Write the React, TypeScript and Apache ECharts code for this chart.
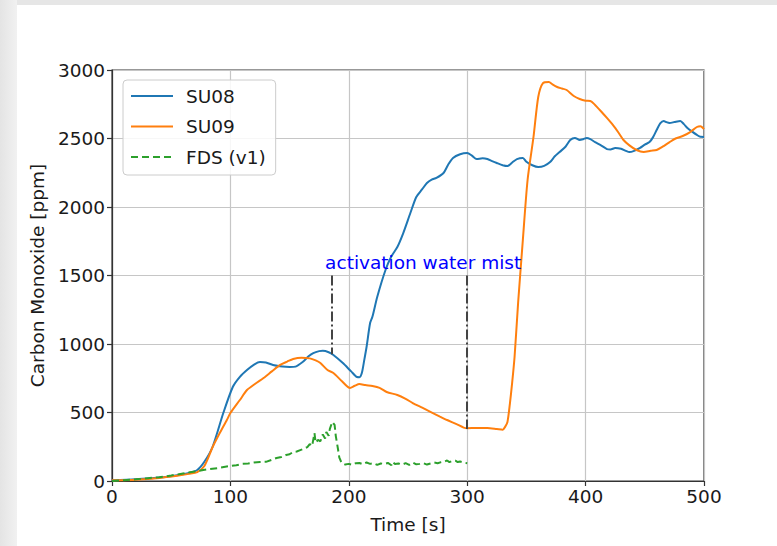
import React, { useEffect, useRef } from "react";
import * as echarts from "echarts";

// Measured CO concentration, sensor SU08
const su08Time = [0, 20, 40, 55, 65, 72, 78, 85, 94, 102, 108, 114, 120, 125, 130, 136, 144, 150, 155, 161, 166, 170, 175, 178, 183, 187, 195, 202, 207, 209, 211, 213, 215, 218, 220, 224, 231, 236, 241, 246, 252, 257, 262, 266, 270, 274, 280, 284, 288, 294, 300, 304, 308, 313, 317, 321, 325, 330, 334, 338, 342, 347, 350, 355, 360, 365, 370, 374, 378, 383, 387, 391, 395, 398, 401, 404, 408, 413, 418, 421, 425, 430, 434, 437, 441, 446, 450, 454, 457, 460, 463, 466, 468, 471, 475, 480, 483, 486, 490, 494, 497, 500];
const su08Co = [5, 12, 25, 42, 58, 80, 140, 250, 496, 686, 760, 810, 850, 869, 865, 847, 835, 832, 835, 869, 910, 934, 948, 950, 940, 920, 861, 800, 759, 758, 788, 880, 978, 1153, 1200, 1343, 1540, 1640, 1708, 1810, 1956, 2073, 2130, 2175, 2200, 2212, 2248, 2310, 2358, 2385, 2394, 2375, 2350, 2355, 2350, 2335, 2321, 2305, 2299, 2325, 2350, 2358, 2330, 2305, 2292, 2300, 2328, 2370, 2401, 2440, 2489, 2504, 2489, 2495, 2504, 2495, 2474, 2450, 2423, 2420, 2431, 2425, 2410, 2401, 2410, 2431, 2455, 2474, 2510, 2562, 2610, 2628, 2620, 2613, 2620, 2628, 2605, 2577, 2550, 2526, 2512, 2511];

// Measured CO concentration, sensor SU09
const su09Time = [0, 20, 40, 55, 65, 72, 78, 85, 91, 97, 100, 108, 114, 121, 128, 135, 142, 148, 153, 160, 167, 172, 176, 182, 187, 194, 201, 205, 209, 214, 220, 226, 232, 241, 248, 254, 262, 271, 277, 283, 291, 297, 300, 308, 317, 325, 330, 332, 334, 336, 338, 340, 343, 347, 351, 356, 360, 364, 369, 372, 376, 380, 384, 390, 395, 400, 404, 408, 412, 418, 423, 428, 432, 437, 443, 449, 455, 460, 465, 471, 476, 482, 488, 494, 497, 500];
const su09Co = [5, 10, 22, 38, 52, 65, 110, 248, 350, 445, 496, 591, 664, 710, 752, 800, 847, 872, 891, 900, 895, 880, 861, 810, 788, 730, 679, 695, 708, 700, 693, 680, 650, 628, 600, 569, 535, 496, 470, 445, 415, 390, 385, 387, 387, 380, 375, 395, 431, 560, 720, 905, 1300, 1759, 2197, 2511, 2803, 2905, 2912, 2895, 2876, 2865, 2854, 2810, 2788, 2776, 2774, 2745, 2708, 2650, 2599, 2540, 2489, 2450, 2416, 2401, 2410, 2416, 2440, 2474, 2500, 2518, 2545, 2584, 2590, 2569];

// FDS simulation (v1)
const fdsTime = [0, 10, 20, 30, 40, 50, 60, 70, 80, 90, 100, 105, 110, 115, 120, 125, 130, 135, 139, 143, 147, 150, 153, 156, 159, 162, 165, 167, 169, 171, 172, 174, 176, 178, 180, 181, 183, 184, 186, 187, 188, 189, 191, 192, 194, 197, 200, 203, 206, 209, 212, 215, 218, 221, 224, 227, 230, 233, 236, 237, 239, 242, 245, 248, 251, 254, 257, 260, 263, 266, 269, 272, 275, 278, 281, 283, 285, 287, 290, 292, 294, 297, 300];
const fdsCo = [0, 5, 12, 20, 28, 40, 55, 70, 85, 95, 110, 115, 125, 128, 135, 139, 140, 155, 168, 175, 190, 195, 212, 215, 225, 235, 248, 270, 255, 350, 280, 300, 290, 340, 310, 358, 330, 380, 431, 420, 409, 330, 226, 170, 131, 120, 125, 118, 130, 131, 122, 135, 125, 130, 118, 128, 125, 132, 115, 140, 124, 128, 120, 130, 118, 135, 122, 125, 130, 120, 128, 135, 130, 138, 142, 150, 138, 145, 148, 138, 142, 135, 130];

// Water mist activation markers: time, top and bottom of the marker line
const activationTime = [186, 300];
const activationTop = [1500, 1500];
const activationBottom = [925, 380];
const annotationText = "activation water mist";
const annotationAt = [180, 1525];

const xTicks = { min: 0, max: 500, interval: 100 };
const yTicks = { min: 0, max: 3000, interval: 500 };

const FONT = "DejaVu Sans";
const FS = 18.5;
const TXT = "#1a1a1a";

const pairs = (t: number[], v: number[]) => t.map((x, i) => [x, v[i]]);

export default function App() {
  const ref = useRef<HTMLDivElement>(null);

  useEffect(() => {
    if (!ref.current) return;
    const chart = echarts.init(ref.current, null, { renderer: "svg" });

    const markLines = activationTime.map((t, i) => [
      { coord: [t, activationTop[i]] },
      { coord: [t, activationBottom[i]] },
    ]);

    chart.setOption({
      animation: false,
      textStyle: { fontFamily: FONT },
      grid: {
        left: 112,
        top: 70,
        width: 592,
        height: 411,
        show: true,
        borderColor: "#333333",
        borderWidth: 1.2,
        backgroundColor: "transparent",
      },
      legend: {
        data: ["SU08", "SU09", "FDS (v1)"],
        orient: "vertical",
        left: 123,
        top: 80,
        padding: [6, 10, 8, 7],
        itemWidth: 42,
        itemHeight: 20,
        itemGap: 10.5,
        backgroundColor: "rgba(255,255,255,0.85)",
        borderColor: "#cccccc",
        borderWidth: 1,
        borderRadius: 4,
        // line-only legend keys: hide the marker drawn on top of each line
        itemStyle: { color: "rgba(0,0,0,0)", borderWidth: 0 },
        textStyle: {
          fontFamily: FONT,
          fontSize: FS,
          color: TXT,
          lineHeight: 20,
          padding: [0, 0, 0, 8],
        },
      },
      xAxis: {
        type: "value",
        ...xTicks,
        name: "Time [s]",
        nameLocation: "middle",
        nameGap: 34,
        nameTextStyle: { fontFamily: FONT, fontSize: FS, color: TXT },
        axisLine: { show: true, lineStyle: { color: "#333333", width: 1.2 } },
        axisTick: { show: true, inside: false, length: 5, lineStyle: { color: "#333333", width: 1.2 } },
        axisLabel: { fontFamily: FONT, fontSize: FS, color: TXT, margin: 6, formatter: (v: number) => String(v) },
        splitLine: { show: true, lineStyle: { color: "#c6c6c6", width: 1.2 } },
      },
      yAxis: {
        type: "value",
        ...yTicks,
        name: "Carbon Monoxide [ppm]",
        nameLocation: "middle",
        nameGap: 64,
        nameTextStyle: { fontFamily: FONT, fontSize: FS, color: TXT },
        axisLine: { show: true, lineStyle: { color: "#333333", width: 1.2 } },
        axisTick: { show: true, inside: false, length: 5, lineStyle: { color: "#333333", width: 1.2 } },
        axisLabel: { fontFamily: FONT, fontSize: FS, color: TXT, margin: 7, formatter: (v: number) => String(v) },
        splitLine: { show: true, lineStyle: { color: "#c6c6c6", width: 1.2 } },
      },
      series: [
        {
          name: "SU08",
          type: "line",
          data: pairs(su08Time, su08Co),
          showSymbol: false,
          symbol: "none",
          smooth: 0.25,
          lineStyle: { color: "#1f77b4", width: 2 },
          itemStyle: { color: "#1f77b4" },
          z: 3,
          markLine: {
            silent: true,
            symbol: ["none", "none"],
            label: { show: false },
            lineStyle: { color: "#444444", width: 2, type: [10, 3, 2, 3] },
            data: markLines,
          },
          markPoint: {
            silent: true,
            symbol: "circle",
            symbolSize: 0,
            data: [
              {
                coord: annotationAt,
                label: {
                  show: true,
                  formatter: annotationText,
                  position: [0, 0],
                  align: "left",
                  verticalAlign: "bottom",
                  fontFamily: FONT,
                  fontSize: FS,
                  color: "#0000ff",
                },
              },
            ],
          },
        },
        {
          name: "SU09",
          type: "line",
          data: pairs(su09Time, su09Co),
          showSymbol: false,
          symbol: "none",
          smooth: 0.25,
          lineStyle: { color: "#ff7f0e", width: 2 },
          itemStyle: { color: "#ff7f0e" },
          z: 3,
        },
        {
          name: "FDS (v1)",
          type: "line",
          data: pairs(fdsTime, fdsCo),
          showSymbol: false,
          symbol: "none",
          lineStyle: { color: "#2ca02c", width: 2, type: [7, 4] },
          itemStyle: { color: "#2ca02c" },
          z: 3,
        },
      ],
    });

    return () => chart.dispose();
  }, []);

  return (
    <div
      style={{
        position: "fixed",
        left: 0,
        top: 0,
        width: 777,
        height: 546,
        background: "linear-gradient(to right, #e4e4e4, #f1f1f1 17px, #e6e6e6 17px)",
      }}
    >
      <div
        style={{
          position: "absolute",
          left: 17,
          top: 5,
          right: 0,
          bottom: 0,
          background: "#ffffff",
        }}
      />
      <div ref={ref} style={{ position: "absolute", left: 0, top: 0, width: 777, height: 546 }} />
    </div>
  );
}
